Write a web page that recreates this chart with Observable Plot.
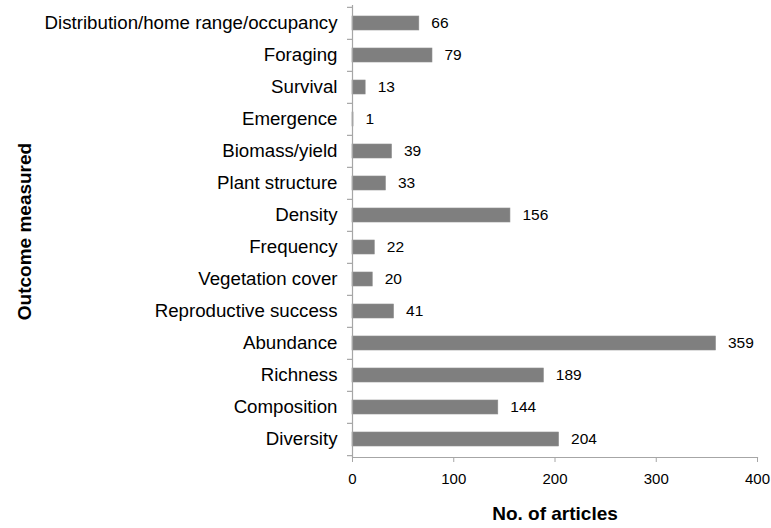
<!DOCTYPE html>
<html>
<head>
<meta charset="utf-8">
<script src="https://cdn.jsdelivr.net/npm/d3@7"></script>
<script src="https://cdn.jsdelivr.net/npm/@observablehq/plot@0.6"></script>
<style>
  html, body { margin: 0; padding: 0; background: #fff; }
  svg { font-family: "Liberation Sans", Arial, sans-serif; }
</style>
</head>
<body>
<div id="chart"></div>
<script>
const categories = [
  "Distribution/home range/occupancy",
  "Foraging",
  "Survival",
  "Emergence",
  "Biomass/yield",
  "Plant structure",
  "Density",
  "Frequency",
  "Vegetation cover",
  "Reproductive success",
  "Abundance",
  "Richness",
  "Composition",
  "Diversity"
];
const articles = [66, 79, 13, 1, 39, 33, 156, 22, 20, 41, 359, 189, 144, 204];
const xTicks = [0, 100, 200, 300, 400];
const xTitle = "No. of articles";
const yTitle = "Outcome measured";

const data = categories.map((c, i) => ({category: c, value: articles[i]}));

const W = 771, H = 528, mL = 352, mR = 14, mT = 5, mB = 71;
const step = (H - mT - mB) / categories.length;
const axisColor = "#a6a6a6";

const chart = Plot.plot({
  width: W,
  height: H,
  marginLeft: mL,
  marginRight: mR,
  marginTop: mT,
  marginBottom: mB,
  style: {fontSize: "16px", fontFamily: "'Liberation Sans', Arial, sans-serif", color: "#000"},
  x: {domain: [0, 400]},
  y: {domain: categories, paddingInner: 0.56, paddingOuter: 0.28},
  marks: [
    Plot.barX(data, {x: "value", y: "category", fill: "#7f7f7f", stroke: "#8c8c8c", strokeWidth: 0.6}),
    Plot.text(data, {x: "value", y: "category", text: d => String(d.value), textAnchor: "start", dx: 12, fontSize: 15.5, fill: "#000"}),
    Plot.ruleX([0], {stroke: axisColor, strokeWidth: 1.2}),
    Plot.frame({anchor: "bottom", stroke: axisColor, strokeWidth: 1.2}),
    Plot.ruleY(categories, {y: d => d, x1: 0, x2: 0, insetLeft: -5, dy: -step / 2, stroke: axisColor, strokeWidth: 1.2}),
    Plot.ruleY(categories.slice(-1), {y: d => d, x1: 0, x2: 0, insetLeft: -5, dy: step / 2, stroke: axisColor, strokeWidth: 1.2}),
    Plot.axisY({tickSize: 0, tickPadding: 15, label: null, fontSize: 18.7}),
    Plot.axisY({ticks: [], label: yTitle, labelAnchor: "center", labelArrow: "none", labelOffset: 335, fontSize: 19, fontWeight: "bold"}),
    Plot.axisX({ticks: xTicks, tickSize: 5, stroke: axisColor, tickPadding: 11, label: null, fontSize: 15}),
    Plot.axisX({ticks: [], label: xTitle, labelAnchor: "center", labelArrow: "none", labelOffset: 62, fontSize: 19, fontWeight: "bold"})
  ]
});
document.getElementById("chart").appendChild(chart);
</script>
</body>
</html>
